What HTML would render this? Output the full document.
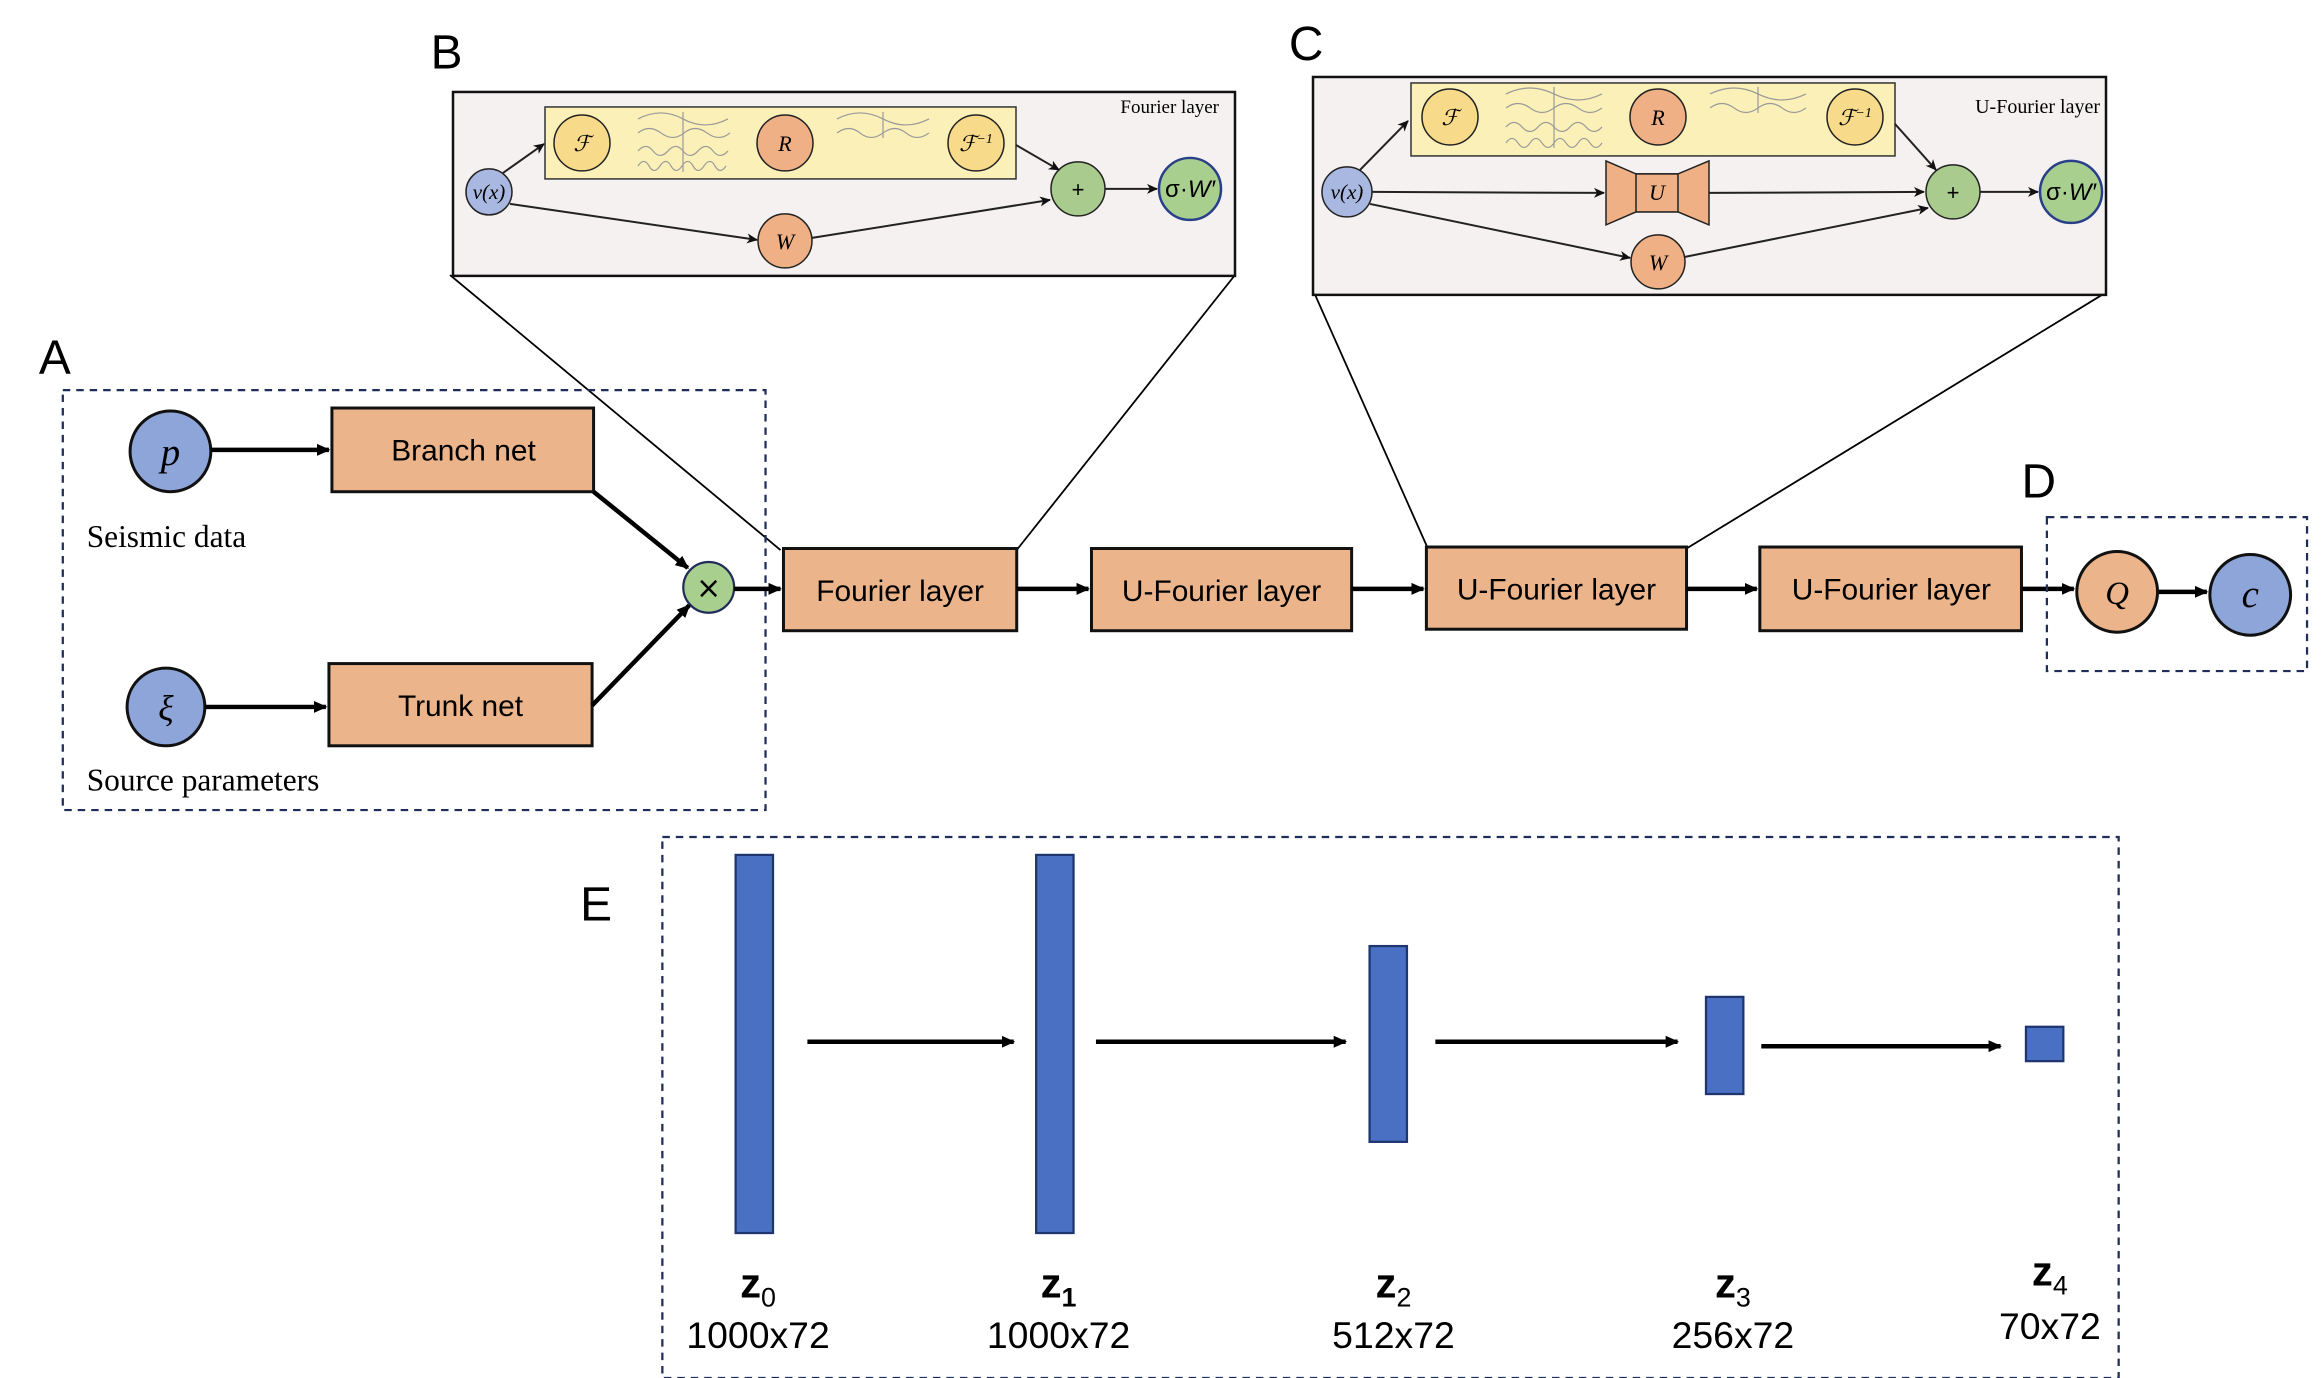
<!DOCTYPE html>
<html><head><meta charset="utf-8"><style>html,body{margin:0;padding:0;background:#fff}svg{display:block}</style></head>
<body>
<svg width="2322" height="1378" viewBox="0 0 1553 922" preserveAspectRatio="none" xmlns="http://www.w3.org/2000/svg">
<defs>
<marker id="ah" markerWidth="10" markerHeight="10" refX="8" refY="5" orient="auto" markerUnits="userSpaceOnUse"><path d="M0,1 L9,5 L0,9 z" fill="#000"/></marker>
<marker id="as" markerWidth="12" markerHeight="12" refX="10" refY="6" orient="auto" markerUnits="userSpaceOnUse"><path d="M0,1 L11,6 L0,11 L3,6 z" fill="#111"/></marker>
</defs>
<g font-family="Liberation Sans, sans-serif">
<text x="288" y="46" font-size="32">B</text>
<text x="862" y="40" font-size="32">C</text>
<text x="26" y="250" font-size="32">A</text>
<text x="1352" y="333" font-size="32">D</text>
<text x="388" y="616" font-size="32">E</text>
</g>
<g stroke="#000" stroke-width="1.2" fill="none">
<line x1="301" y1="184" x2="522" y2="368"/>
<line x1="826" y1="184" x2="680" y2="368"/>
<line x1="879" y1="196" x2="955" y2="367"/>
<line x1="1408" y1="196" x2="1128" y2="367"/>
</g>
<rect x="42" y="261" width="470" height="281" fill="none" stroke="#1f2d5a" stroke-width="1.5" stroke-dasharray="5,4"/>
<circle cx="114" cy="302" r="27" fill="#8EA5DA" stroke="#111" stroke-width="2"/>
<text x="114" y="311" font-family="Liberation Serif,serif" font-style="italic" font-size="26" text-anchor="middle">p</text>
<circle cx="111" cy="473" r="26" fill="#8EA5DA" stroke="#111" stroke-width="2"/>
<text x="111" y="482" font-family="Liberation Serif,serif" font-style="italic" font-size="24" text-anchor="middle">ξ</text>
<text x="58" y="366" font-family="Liberation Serif,serif" font-size="21">Seismic data</text>
<text x="58" y="529" font-family="Liberation Serif,serif" font-size="21">Source parameters</text>
<g fill="#EBB48A" stroke="#111" stroke-width="2">
<rect x="222" y="273" width="175" height="56"/>
<rect x="220" y="444" width="176" height="55"/>
<rect x="524" y="367" width="156" height="55"/>
<rect x="730" y="367" width="174" height="55"/>
<rect x="954" y="366" width="174" height="55"/>
<rect x="1177" y="366" width="175" height="56"/>
</g>
<g font-family="Liberation Sans,sans-serif" font-size="20" text-anchor="middle">
<text x="310" y="308">Branch net</text>
<text x="308" y="479">Trunk net</text>
<text x="602" y="402">Fourier layer</text>
<text x="817" y="402">U-Fourier layer</text>
<text x="1041" y="401">U-Fourier layer</text>
<text x="1265" y="401">U-Fourier layer</text>
</g>
<circle cx="474" cy="393" r="17" fill="#A9CF8F" stroke="#1f2d5a" stroke-width="1.5"/>
<text x="474" y="400" font-family="DejaVu Sans,sans-serif" font-size="20" text-anchor="middle">×</text>
<g stroke="#000" stroke-width="3" fill="none" marker-end="url(#ah)">
<line x1="141" y1="301" x2="220" y2="301"/>
<line x1="137" y1="473" x2="218" y2="473"/>
<line x1="397" y1="329" x2="460" y2="380"/>
<line x1="396" y1="472" x2="461" y2="405"/>
<line x1="491" y1="394" x2="522" y2="394"/>
<line x1="680" y1="394" x2="728" y2="394"/>
<line x1="904" y1="394" x2="952" y2="394"/>
<line x1="1128" y1="394" x2="1175" y2="394"/>
<line x1="1352" y1="394" x2="1387" y2="394"/>
<line x1="1443" y1="396" x2="1476" y2="396"/>
</g>
<rect x="1369" y="346" width="174" height="103" fill="none" stroke="#1f2d5a" stroke-width="1.5" stroke-dasharray="5,4"/>
<circle cx="1416" cy="396" r="27" fill="#EBB48A" stroke="#111" stroke-width="2"/>
<text x="1416" y="404" font-family="Liberation Serif,serif" font-style="italic" font-size="22" text-anchor="middle">Q</text>
<circle cx="1505" cy="398" r="27" fill="#8EA5DA" stroke="#111" stroke-width="2"/>
<text x="1505" y="406" font-family="Liberation Serif,serif" font-style="italic" font-size="26" text-anchor="middle">c</text>
<rect x="443" y="560" width="974" height="362" fill="none" stroke="#1f2d5a" stroke-width="1.5" stroke-dasharray="5,4"/>
<g fill="#4A70C4" stroke="#1f3570" stroke-width="1.5">
<rect x="492" y="572" width="25" height="253"/>
<rect x="693" y="572" width="25" height="253"/>
<rect x="916" y="633" width="25" height="131"/>
<rect x="1141" y="667" width="25" height="65"/>
<rect x="1355" y="687" width="25" height="23"/>
</g>
<g stroke="#000" stroke-width="3" marker-end="url(#ah)">
<line x1="540" y1="697" x2="678" y2="697"/>
<line x1="733" y1="697" x2="900" y2="697"/>
<line x1="960" y1="697" x2="1122" y2="697"/>
<line x1="1178" y1="700" x2="1338" y2="700"/>
</g>
<g font-family="Liberation Sans,sans-serif" text-anchor="middle">
<text x="507" y="868" font-size="28" font-weight="bold">z<tspan font-size="18" font-weight="normal" dy="6">0</tspan></text>
<text x="708" y="868" font-size="28" font-weight="bold">z<tspan font-size="18" dy="6">1</tspan></text>
<text x="932" y="868" font-size="28" font-weight="bold">z<tspan font-size="18" font-weight="normal" dy="6">2</tspan></text>
<text x="1159" y="868" font-size="28" font-weight="bold">z<tspan font-size="18" font-weight="normal" dy="6">3</tspan></text>
<text x="1371" y="860" font-size="28" font-weight="bold">z<tspan font-size="18" font-weight="normal" dy="6">4</tspan></text>
<g font-size="25">
<text x="507" y="902">1000x72</text>
<text x="708" y="902">1000x72</text>
<text x="932" y="902">512x72</text>
<text x="1159" y="902">256x72</text>
<text x="1371" y="896">70x72</text>
</g>
</g>
<g transform="scale(0.66882)">
<!-- B inset -->
<rect x="453" y="92" width="782" height="184" fill="#F4F1F0" stroke="#111" stroke-width="2.5"/>
<rect x="545" y="107" width="471" height="72" fill="#FAF0B8" stroke="#333" stroke-width="1.5"/>
<g stroke="#999" stroke-width="1.2" fill="none">
<path d="M638,119 q23,-12 45,0 t45,0"/><path d="M638,133 q11,-9 23,0 t23,0 t23,0 t23,0"/>
<path d="M638,151 q8,-9 15,0 t15,0 t15,0 t15,0 t15,0 t15,0"/><path d="M638,166 q6,-9 11,0 t11,0 t11,0 t11,0 t11,0 t11,0 t11,0 t11,0"/>
<line x1="683" y1="112" x2="683" y2="172"/>
<path d="M837,119 q23,-12 46,0 t46,0"/><path d="M837,133 q12,-9 23,0 t23,0 t23,0 t23,0"/>
<line x1="883" y1="112" x2="883" y2="138"/>
</g>
<g stroke="#222" stroke-width="1.5">
<circle cx="582" cy="143" r="28" fill="#F8DB8A"/>
<circle cx="785" cy="143" r="28" fill="#EFB085"/>
<circle cx="976" cy="143" r="28" fill="#F8DB8A"/>
<circle cx="489" cy="192" r="23" fill="#A9B8E0"/>
<circle cx="1078" cy="189" r="27" fill="#A9CB8D"/>
<circle cx="785" cy="241" r="27" fill="#EFB085"/>
</g>
<circle cx="1190" cy="189" r="31" fill="#A9CF8F" stroke="#2a3f8a" stroke-width="2.5"/>
<g stroke="#222" stroke-width="2" fill="none" marker-end="url(#as)">
<line x1="503" y1="173" x2="544" y2="144"/>
<line x1="510" y1="204" x2="757" y2="240"/>
<line x1="812" y1="238" x2="1050" y2="200"/>
<line x1="1016" y1="145" x2="1059" y2="170"/>
<line x1="1105" y1="189" x2="1157" y2="189"/>
</g>
<g font-family="Liberation Serif,serif" font-style="italic" text-anchor="middle" font-size="22">
<text x="582" y="151">ℱ</text><text x="785" y="151">R</text><text x="976" y="151">ℱ<tspan font-size="14" dy="-8">−1</tspan></text>
<text x="489" y="199" font-size="21">v(x)</text><text x="785" y="249">W</text>
</g>
<text x="1078" y="197" font-family="Liberation Sans,sans-serif" font-size="22" text-anchor="middle">+</text>
<text x="1190" y="197" font-family="Liberation Sans,sans-serif" font-size="24" text-anchor="middle">σ·<tspan font-style="italic">W′</tspan></text>
<text x="1219" y="113" font-family="Liberation Serif,serif" font-size="19" text-anchor="end">Fourier layer</text>
<!-- C inset -->
<rect x="1313" y="77" width="793" height="218" fill="#F4F1F0" stroke="#111" stroke-width="2.5"/>
<rect x="1411" y="83" width="484" height="73" fill="#FAF0B8" stroke="#333" stroke-width="1.5"/>
<g stroke="#999" stroke-width="1.2" fill="none">
<path d="M1506,94 q24,-12 48,0 t48,0"/><path d="M1506,108 q12,-9 24,0 t24,0 t24,0 t24,0"/>
<path d="M1506,127 q8,-9 16,0 t16,0 t16,0 t16,0 t16,0 t16,0"/><path d="M1506,143 q6,-9 12,0 t12,0 t12,0 t12,0 t12,0 t12,0 t12,0 t12,0"/>
<line x1="1554" y1="87" x2="1554" y2="148"/>
<path d="M1710,94 q24,-12 48,0 t48,0"/><path d="M1710,108 q12,-9 24,0 t24,0 t24,0 t24,0"/>
<line x1="1758" y1="87" x2="1758" y2="113"/>
</g>
<g stroke="#222" stroke-width="1.5">
<circle cx="1450" cy="117" r="28" fill="#F8DB8A"/>
<circle cx="1658" cy="117" r="28" fill="#EFB085"/>
<circle cx="1855" cy="117" r="28" fill="#F8DB8A"/>
<circle cx="1347" cy="192" r="25" fill="#A9B8E0"/>
<circle cx="1953" cy="192" r="27" fill="#A9CB8D"/>
<circle cx="1658" cy="262" r="27" fill="#EFB085"/>
<path d="M1606,161 L1636,174 L1678,174 L1709,161 L1709,225 L1678,212 L1636,212 L1606,225 Z" fill="#EFB085"/>
<rect x="1636" y="174" width="42" height="38" fill="#EFB085"/>
</g>
<circle cx="2071" cy="192" r="31" fill="#A9CF8F" stroke="#2a3f8a" stroke-width="2.5"/>
<g stroke="#222" stroke-width="2" fill="none" marker-end="url(#as)">
<line x1="1360" y1="170" x2="1408" y2="121"/>
<line x1="1372" y1="192" x2="1604" y2="193"/>
<line x1="1709" y1="193" x2="1924" y2="192"/>
<line x1="1370" y1="204" x2="1630" y2="258"/>
<line x1="1685" y1="257" x2="1928" y2="208"/>
<line x1="1895" y1="124" x2="1936" y2="170"/>
<line x1="1980" y1="192" x2="2038" y2="192"/>
</g>
<g font-family="Liberation Serif,serif" font-style="italic" text-anchor="middle" font-size="22">
<text x="1450" y="125">ℱ</text><text x="1658" y="125">R</text><text x="1855" y="125">ℱ<tspan font-size="14" dy="-8">−1</tspan></text>
<text x="1347" y="199" font-size="21">v(x)</text><text x="1658" y="270">W</text><text x="1657" y="200">U</text>
</g>
<text x="1953" y="200" font-family="Liberation Sans,sans-serif" font-size="22" text-anchor="middle">+</text>
<text x="2071" y="200" font-family="Liberation Sans,sans-serif" font-size="24" text-anchor="middle">σ·<tspan font-style="italic">W′</tspan></text>
<text x="2100" y="113" font-family="Liberation Serif,serif" font-size="20" text-anchor="end">U-Fourier layer</text>
</g>
</svg>
</body></html>
